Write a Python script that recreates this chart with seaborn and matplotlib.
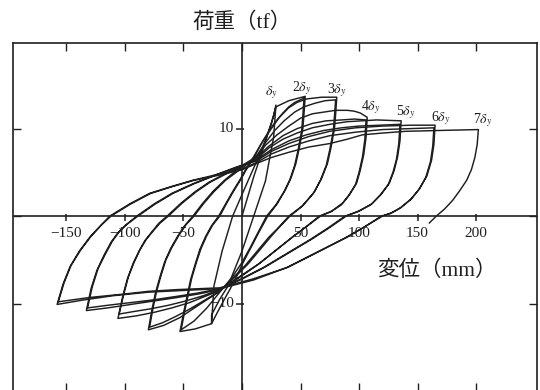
import matplotlib
matplotlib.use("Agg")
import matplotlib.pyplot as plt
import pandas as pd
import seaborn as sns

sns.set_theme(style="white")
plt.rcParams["font.family"] = ["Liberation Serif", "Noto Sans CJK JP", "DejaVu Sans"]
plt.rcParams["mathtext.fontset"] = "stix"

# Displacement (mm) / load (tf) histories, one list pair per amplitude level
lvl1_x = [0, 10, 20, 27, 29, 27, 20, 10, 0, -12, -19, -26, -26, -24, -17, -8, 5, 15, 25, 29]
lvl1_y = [0, 4.5, 8.5, 11.5, 12.7, 9, 4, 0, -4, -8, -9.5, -11.3, -12.3, -8, -4, 0, 4, 7, 10.5, 12.5]

lvl2_x = [29, 40, 54,
          53, 52, 49, 46, 42, 37, 30, 22, 15, 8, 1, -5, -10, -15, -21, -26,
          -40, -53,
          -50, -47, -44, -40, -36, -31, -26, -20, -14, -8, -2, 3, 10,
          16, 22, 28, 35, 40, 45, 53,
          52, 51, 48, 45, 41, 36, 29, 21, 14, 7, 0, -8, -19,
          -30, -41, -52,
          -49, -46, -43, -39, -35, -30, -25, -19, -13, -7, -1, 4, 11]
lvl2_y = [12.5, 13.2, 13.7,
          11.7, 10, 7.8, 6, 4.4, 3, 1.4, 0, -1.7, -3.5, -5.3, -7, -8.3, -9.5, -11, -12.3,
          -12.9, -13.2,
          -11.1, -9.2, -7.3, -5.5, -3.8, -2.3, -1.1, 0, 1.4, 2.8, 4.1, 5.3, 6.8,
          8.2, 9.5, 10.7, 11.8, 12.5, 13.0, 13.5,
          11.5, 9.8, 7.6, 5.8, 4.2, 2.8, 1.3, 0, -1.8, -3.6, -5.3, -6.9, -8.7,
          -10.5, -12.0, -13.0,
          -10.9, -9.0, -7.1, -5.3, -3.7, -2.2, -1.0, 0, 1.5, 2.9, 4.2, 5.4, 6.9]

lvl3_x = [11, 18, 25, 32, 40, 47, 55, 68, 81,
          80, 79, 76, 73, 68, 62, 52, 41, 33, 25, 15, 5, -7, -19,
          -27, -35, -44, -53, -67, -80,
          -77, -74, -70, -66, -61, -55, -49, -42, -34, -25, -15, -5, 4, 12,
          20, 28, 36, 45, 53, 62, 71, 80,
          79, 78, 75, 72, 67, 61, 51, 40, 32, 23, 13, 3, -8, -19,
          -28, -38, -47, -57, -68, -79,
          -76, -73, -69, -65, -60, -54, -48, -41, -33, -24, -14, -4, 5, 12]
lvl3_y = [6.9, 8.6, 10.0, 11.3, 12.4, 13.0, 13.4, 13.6, 13.6,
          11.6, 10.0, 7.8, 6.0, 4.3, 2.8, 1.2, 0, -1.1, -2.3, -3.9, -5.5, -7.1, -8.6,
          -9.3, -10.0, -10.8, -11.6, -12.5, -13.0,
          -10.7, -8.8, -6.9, -5.2, -3.7, -2.3, -1.1, 0, 1.4, 2.8, 4.1, 5.2, 6.1, 6.8,
          8.4, 9.8, 10.9, 11.9, 12.5, 12.9, 13.2, 13.3,
          11.4, 9.7, 7.6, 5.8, 4.1, 2.6, 1.1, 0, -1.2, -2.4, -4.0, -5.6, -7.1, -8.6,
          -9.3, -10.1, -10.8, -11.5, -12.2, -12.7,
          -10.5, -8.6, -6.7, -5.0, -3.6, -2.2, -1.0, 0, 1.4, 2.8, 4.1, 5.1, 6.0, 6.7]

lvl4_x = [12, 20, 30, 40, 50, 60, 70, 80, 90, 96, 101, 107,
          106, 104, 101, 98, 92, 86, 77, 67, 56, 45, 30, 15, -2, -19,
          -32, -45, -60, -75, -90, -106,
          -102, -98, -93, -88, -83, -77, -71, -64, -52, -40, -28, -15, 0, 12,
          22, 35, 47, 60, 72, 85, 96, 106,
          105, 103, 100, 97, 91, 85, 76, 66, 55, 44, 29, 14, -3, -19,
          -33, -48, -63, -78, -92, -105,
          -101, -97, -92, -87, -82, -76, -70, -63, -51, -39, -27, -14, 0, 12]
lvl4_y = [6.7, 8.1, 9.3, 10.3, 11.2, 11.7, 11.9, 12.1, 12.1, 12.0, 11.8, 11.3,
          9.0, 7.0, 5.2, 3.8, 2.5, 1.5, 0.6, 0, -1.1, -2.2, -3.8, -5.4, -7.0, -8.5,
          -9.2, -9.9, -10.5, -11.0, -11.4, -11.7,
          -9.2, -7.2, -5.4, -4.0, -2.8, -1.8, -0.8, 0, 1.5, 2.8, 3.9, 4.8, 5.8, 6.6,
          7.9, 9.2, 10.0, 10.6, 10.9, 11.0, 11.1, 11.0,
          8.8, 6.8, 5.0, 3.6, 2.3, 1.3, 0.5, 0, -1.2, -2.3, -3.9, -5.5, -7.0, -8.4,
          -9.1, -9.7, -10.2, -10.6, -10.9, -11.2,
          -8.9, -6.9, -5.2, -3.8, -2.7, -1.7, -0.8, 0, 1.5, 2.8, 3.9, 4.8, 5.7, 6.5]

lvl5_x = [12, 23, 35, 47, 60, 75, 90, 115, 136,
          135, 133, 130, 126, 119, 111, 100, 89, 75, 60, 40, 20, 0, -19,
          -37, -55, -75, -95, -115, -133,
          -129, -124, -118, -112, -106, -100, -90, -75, -60, -42, -25, -7, 12,
          25, 40, 55, 70, 85, 100, 118, 135,
          134, 132, 129, 125, 118, 110, 99, 88, 73, 58, 38, 18, -1, -19,
          -38, -57, -77, -96, -115, -132,
          -128, -123, -117, -111, -105, -99, -89, -74, -59, -41, -24, -6, 12]
lvl5_y = [6.5, 7.8, 8.8, 9.5, 10.1, 10.5, 10.8, 11.0, 10.9,
          8.6, 6.8, 5.2, 3.8, 2.5, 1.4, 0.6, 0, -1.3, -2.6, -4.2, -5.8, -7.2, -8.4,
          -8.9, -9.3, -9.7, -10.1, -10.5, -10.8,
          -8.3, -6.2, -4.5, -3.0, -1.9, -1.1, 0, 1.4, 2.6, 3.7, 4.6, 5.5, 6.4,
          7.6, 8.6, 9.3, 9.8, 10.1, 10.3, 10.4, 10.5,
          8.3, 6.5, 5.0, 3.6, 2.4, 1.3, 0.5, 0, -1.4, -2.7, -4.3, -5.9, -7.2, -8.3,
          -8.8, -9.2, -9.6, -9.9, -10.2, -10.5,
          -8.1, -6.0, -4.4, -2.9, -1.8, -1.0, 0, 1.4, 2.6, 3.7, 4.6, 5.5, 6.3]

lvl6_x = [12, 25, 40, 57, 75, 97, 120, 145, 165,
          164, 162, 158, 152, 145, 136, 128, 120, 105, 90, 65, 40, 10, -19,
          -50, -80, -110, -136, -158,
          -153, -147, -139, -130, -121, -113, -96, -79, -60, -42, -20, 0, 12,
          25, 40, 57, 75, 97, 120, 142, 164,
          163, 161, 157, 151, 144, 135, 127, 119, 104, 88, 63, 38, 9, -19,
          -55, -80, -100, -130, -157,
          -152, -146, -138, -129, -120, -112, -95, -78, -59, -41, -19, 0, 12]
lvl6_y = [6.3, 7.4, 8.3, 9.1, 9.7, 10.1, 10.3, 10.4, 10.4,
          8.2, 6.4, 4.6, 3.2, 2.0, 1.0, 0.4, 0, -1.2, -2.4, -4.1, -5.8, -7.3, -8.3,
          -8.5, -8.7, -9.1, -9.6, -10.1,
          -7.8, -5.8, -4.0, -2.4, -1.1, 0, 1.4, 2.6, 3.4, 4.1, 4.8, 5.4, 6.1,
          7.1, 7.9, 8.6, 9.2, 9.6, 9.9, 10.0, 10.1,
          8.0, 6.2, 4.4, 3.0, 1.9, 0.9, 0.3, 0, -1.3, -2.5, -4.2, -5.9, -7.2, -8.2,
          -8.4, -8.6, -8.9, -9.3, -9.8,
          -7.6, -5.6, -3.9, -2.3, -1.0, 0, 1.4, 2.6, 3.4, 4.1, 4.7, 5.3, 6.0]

lvl7_x = [12, 25, 40, 57, 75, 90, 103, 120, 140, 170, 202,
          201, 199, 196, 192, 186, 180, 173, 166, 160]
lvl7_y = [6.0, 6.7, 7.3, 7.9, 8.3, 8.8, 9.3, 9.5, 9.7, 9.8, 9.9,
          8.2, 6.7, 5.3, 4.1, 2.9, 1.8, 0.8, 0, -0.8]

levels = [(lvl1_x, lvl1_y), (lvl2_x, lvl2_y), (lvl3_x, lvl3_y), (lvl4_x, lvl4_y),
          (lvl5_x, lvl5_y), (lvl6_x, lvl6_y), (lvl7_x, lvl7_y)]

# Amplitude labels (multiples of the yield displacement) and where they sit
amp_labels = ["$\\delta_y$", "2$\\delta_y$", "3$\\delta_y$", "4$\\delta_y$",
              "5$\\delta_y$", "6$\\delta_y$", "7$\\delta_y$"]
amp_label_x = [25, 51, 81, 110, 140, 170, 206]
amp_label_y = [14.1, 14.6, 14.4, 12.5, 11.9, 11.2, 11.0]

x_ticks = [-150, -100, -50, 50, 100, 150, 200]
x_tick_labels = ["\u2212150", "\u2212100", "\u221250", "50", "100", "150", "200"]
y_ticks = [10, -10]
y_tick_labels = ["10", "\u221210"]

frames = []
for i, (xs, ys) in enumerate(levels, start=1):
    frames.append(pd.DataFrame({"disp": xs, "load": ys, "level": i, "step": range(len(xs))}))
df = pd.concat(frames, ignore_index=True)

ink = "#1f1f1f"
fig = plt.figure(figsize=(5.4, 3.9), dpi=100)
ax = fig.add_axes([13 / 540, 1 - 391 / 390, 524 / 540, 348 / 390])
ax.set_xlim(-195.7, 252.1)
ax.set_ylim(-20, 19.8)

sns.lineplot(data=df, x="disp", y="load", units="level", estimator=None, sort=False,
             color=ink, linewidth=1.05, ax=ax, legend=False)

# Axis lines through the origin
ax.axhline(0, color=ink, lw=1.2, zorder=1)
ax.axvline(0, color=ink, lw=1.2, zorder=1)

# Short tick marks on the origin lines
ax.vlines(x_ticks, -0.55, 0.25, color=ink, lw=1.1)
ax.hlines(y_ticks, -5.0, 1.7, color=ink, lw=1.1)

for xv, lab in zip(x_ticks, x_tick_labels):
    ax.text(xv, -1.95, lab, ha="center", va="center", fontsize=11, color=ink)
for yv, lab in zip(y_ticks, y_tick_labels):
    ax.text(-6.5, yv, lab, ha="right", va="center", fontsize=11, color=ink)

for xv, yv, lab in zip(amp_label_x, amp_label_y, amp_labels):
    ax.text(xv, yv, lab, ha="center", va="center", fontsize=10, color=ink)

# Frame with inward ticks on all four sides
ax.set_xticks([-150, -100, -50, 0, 50, 100, 150, 200])
ax.set_yticks([-10, 0, 10])
ax.tick_params(direction="in", length=6, width=1.0, colors=ink,
               top=True, bottom=True, left=True, right=True,
               labelbottom=False, labelleft=False)
for sp in ax.spines.values():
    sp.set_color(ink)
    sp.set_linewidth(1.2)
    sp.set_visible(True)
ax.set_xlabel("")
ax.set_ylabel("")

ax.text(166.7, -6.2, "変位（mm）", ha="center", va="center", fontsize=15.5, color=ink)
fig.text(242 / 540, 1 - 23 / 390, "荷重（tf）", ha="center", va="center", fontsize=15.5, color=ink)

fig.savefig("out.png", dpi=100, facecolor="white")
